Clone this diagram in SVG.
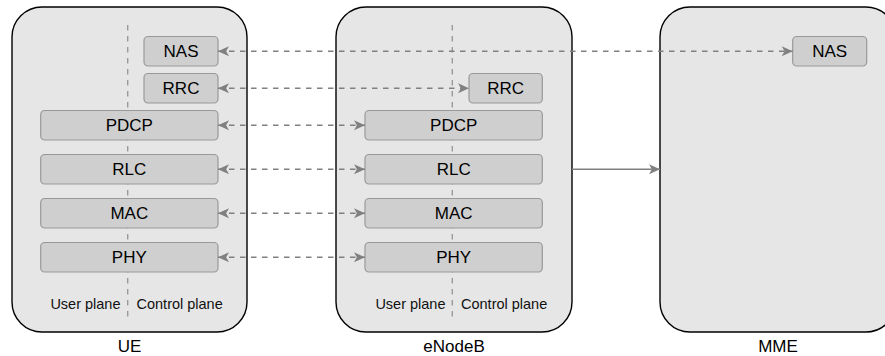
<svg xmlns="http://www.w3.org/2000/svg" width="885" height="356" viewBox="0 0 885 356">
<style>
.container{fill:#e6e6e6;stroke:#000;stroke-width:1.4}
.layer{fill:#cfcfcf;stroke:#999;stroke-width:1.2}
.lbl{font-family:"Liberation Sans",Arial,sans-serif;font-size:17px;fill:#000;text-anchor:middle}
.plane{font-family:"Liberation Sans",Arial,sans-serif;font-size:14.5px;fill:#111}
.divider{stroke:#999;stroke-width:1.4;stroke-dasharray:5.5 5.5;fill:none}
.dash{stroke:#808080;stroke-width:1.4;stroke-dasharray:5.5 5.5;fill:none}
.solid{stroke:#808080;stroke-width:1.5;fill:none}
</style>
<defs>
<marker id="arr" viewBox="0 0 10 10" refX="10" refY="5" markerWidth="12" markerHeight="11" markerUnits="userSpaceOnUse" orient="auto-start-reverse">
<path d="M0,0.5 L10,5 L0,9.5 L2.6,5 Z" fill="#808080"/>
</marker>
</defs>

<g id="UE">
<rect class="container" x="12" y="7" width="235" height="325" rx="30" ry="30"/>
<line class="divider" x1="127.7" y1="25" x2="127.7" y2="318"/>
<text class="plane" x="120.5" y="309" text-anchor="end">User plane</text>
<text class="plane" x="136.5" y="309">Control plane</text>
<text class="lbl" x="129.5" y="352">UE</text>
</g>
<g id="UE-NAS"><rect class="layer" x="144" y="36.5" width="74" height="29.5" rx="4"/><text class="lbl" x="181" y="57.3">NAS</text></g>
<g id="UE-RRC"><rect class="layer" x="144" y="73.5" width="74" height="29.5" rx="4"/><text class="lbl" x="181" y="94.3">RRC</text></g>
<g id="UE-PDCP"><rect class="layer" x="40.7" y="110.5" width="177.3" height="29.5" rx="4"/><text class="lbl" x="129.3" y="131.3">PDCP</text></g>
<g id="UE-RLC"><rect class="layer" x="40.7" y="154.5" width="177.3" height="29.5" rx="4"/><text class="lbl" x="129.3" y="175.3">RLC</text></g>
<g id="UE-MAC"><rect class="layer" x="40.7" y="198.5" width="177.3" height="29.5" rx="4"/><text class="lbl" x="129.3" y="219.3">MAC</text></g>
<g id="UE-PHY"><rect class="layer" x="40.7" y="242.5" width="177.3" height="29.5" rx="4"/><text class="lbl" x="129.3" y="263.3">PHY</text></g>

<g id="eNodeB">
<rect class="container" x="336" y="7" width="236" height="325" rx="30" ry="30"/>
<line class="divider" x1="452.3" y1="25" x2="452.3" y2="318"/>
<text class="plane" x="445.5" y="309" text-anchor="end">User plane</text>
<text class="plane" x="461" y="309">Control plane</text>
<text class="lbl" x="454" y="352">eNodeB</text>
</g>
<g id="eNB-RRC"><rect class="layer" x="469" y="73.5" width="73.3" height="29.5" rx="4"/><text class="lbl" x="505.7" y="94.3">RRC</text></g>
<g id="eNB-PDCP"><rect class="layer" x="365" y="110.5" width="177.3" height="29.5" rx="4"/><text class="lbl" x="453.7" y="131.3">PDCP</text></g>
<g id="eNB-RLC"><rect class="layer" x="365" y="154.5" width="177.3" height="29.5" rx="4"/><text class="lbl" x="453.7" y="175.3">RLC</text></g>
<g id="eNB-MAC"><rect class="layer" x="365" y="198.5" width="177.3" height="29.5" rx="4"/><text class="lbl" x="453.7" y="219.3">MAC</text></g>
<g id="eNB-PHY"><rect class="layer" x="365" y="242.5" width="177.3" height="29.5" rx="4"/><text class="lbl" x="453.7" y="263.3">PHY</text></g>

<g id="MME">
<rect class="container" x="660" y="7" width="236" height="325" rx="30" ry="30"/>
<text class="lbl" x="778" y="352">MME</text>
</g>
<g id="MME-NAS"><rect class="layer" x="792.7" y="36.5" width="74" height="29.5" rx="4"/><text class="lbl" x="829.7" y="57.3">NAS</text></g>

<g id="connectors">
<line class="dash" x1="218" y1="51.3" x2="792.7" y2="51.3" marker-start="url(#arr)" marker-end="url(#arr)"/>
<line class="dash" x1="218" y1="88.3" x2="469" y2="88.3" marker-start="url(#arr)" marker-end="url(#arr)"/>
<line class="dash" x1="218" y1="125.3" x2="365" y2="125.3" marker-start="url(#arr)" marker-end="url(#arr)"/>
<line class="dash" x1="218" y1="169.3" x2="365" y2="169.3" marker-start="url(#arr)" marker-end="url(#arr)"/>
<line class="dash" x1="218" y1="213.3" x2="365" y2="213.3" marker-start="url(#arr)" marker-end="url(#arr)"/>
<line class="dash" x1="218" y1="257.3" x2="365" y2="257.3" marker-start="url(#arr)" marker-end="url(#arr)"/>
<line class="solid" x1="572" y1="169.3" x2="660" y2="169.3" marker-end="url(#arr)"/>
</g>
</svg>
